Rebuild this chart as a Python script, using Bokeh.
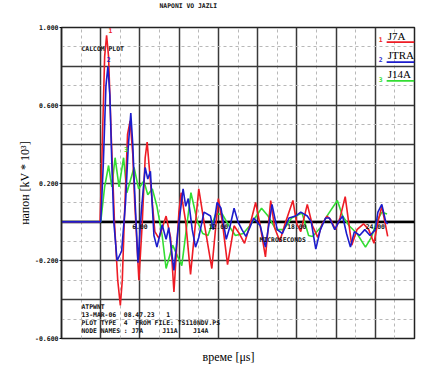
import math
from bokeh.plotting import figure
from bokeh.models import Label, Span, FixedTicker, Range1d, NumeralTickFormatter, Title
from bokeh.embed import file_html
from bokeh.resources import INLINE

# ---- data (time in microseconds, voltage in kV*10^3) ----
t_red = [0, 2.95, 3.1, 3.3, 3.45, 3.6, 3.8, 4.05, 4.3, 4.5,
         4.65, 4.8, 5.05, 5.25, 5.45, 5.6, 5.92, 6.17, 6.4, 6.55,
         6.8, 7.14, 7.45, 8.0, 8.34, 8.6, 8.98, 9.15,
         9.5, 9.87, 10.5, 10.9, 11.5, 12.0, 12.3, 12.7, 13.2, 13.6,
         14.0, 14.4, 14.85, 15.2, 15.6, 16.0, 16.3, 16.7, 17.1, 17.7,
         18.0, 18.3, 18.8, 19.2, 19.6, 19.95, 20.3, 20.6, 20.95, 21.3,
         21.7, 22.2, 22.6, 23.1, 23.5, 23.9, 24.2, 24.5, 24.95]
v_red = [0, 0, 0.35, 0.85, 0.96, 0.85, 0.45, 0.0, -0.30, -0.43,
         -0.30, 0.0, 0.45, 0.52, 0.35, 0.1, -0.30, -0.015, 0.33, 0.41,
         0.21, -0.05, -0.085, 0.03, -0.08, -0.36, 0.05, 0.15,
         0.0, -0.27, 0.17, 0.0, -0.24, 0.12, 0.0, -0.22, -0.02, -0.06,
         -0.11, -0.02, 0.10, -0.02, -0.18, 0.11, -0.03, -0.10, -0.01, 0.11,
         -0.01, -0.05, 0.09, -0.02, -0.08, -0.01, 0.03, 0.01, -0.04, 0.02,
         0.13, -0.12, -0.04, -0.01, -0.04, -0.11, 0.0, 0.08, -0.075]

t_blue = [0, 3.0, 3.2, 3.4, 3.55, 3.7, 3.85, 4.0, 4.25, 4.6,
          4.9, 5.1, 5.3, 5.45, 5.6, 5.85, 6.1, 6.4, 6.6, 6.8,
          7.07, 7.3, 7.7, 8.0, 8.2, 8.6, 8.9, 9.3, 9.5, 9.7,
          10.0, 10.25, 10.5, 10.9, 11.4, 11.6, 11.9, 12.2, 12.6, 12.9,
          13.2, 13.5, 13.8, 14.1, 14.4, 14.7, 15.2, 15.6, 16.1, 16.5,
          16.9, 17.4, 17.9, 18.3, 18.8, 19.1, 19.45, 19.8, 20.2, 20.5,
          20.9, 21.2, 21.5, 21.8, 22.1, 22.4, 22.8, 23.2, 23.6, 24.0,
          24.2, 24.5, 24.8, 24.95]
v_blue = [0, 0, 0.30, 0.70, 0.80, 0.65, 0.30, 0.0, -0.20, -0.15,
          0.10, 0.38, 0.56, 0.40, 0.15, -0.21, 0.05, 0.28, 0.22, 0.26,
          -0.07, -0.13, -0.015, -0.09, -0.03, -0.25, -0.05, 0.17, 0.08, 0.12,
          -0.04, -0.13, -0.08, 0.05, 0.03, -0.04, 0.10, 0.07, -0.09, -0.02,
          0.07, 0.0, -0.04, -0.075, -0.03, 0.02, -0.02, -0.13, 0.09, -0.04,
          -0.06, 0.02, 0.03, 0.05, 0.03, 0.0, -0.14, -0.04, 0.02, 0.02,
          -0.04, 0.0, 0.03, -0.06, -0.13, -0.05, -0.07, -0.04, -0.07, -0.04,
          0.05, 0.09, 0.0, -0.01]

t_green = [0, 3.0, 3.3, 3.6, 3.85, 4.1, 4.4, 4.75, 5.0, 5.55, 5.9,
           6.3, 6.6, 6.95, 7.3, 7.7, 8.0, 8.5, 9.2, 9.9, 10.4,
           10.8, 11.2, 11.8, 12.3, 12.8, 13.3, 13.9, 14.4, 15.3, 15.8,
           16.4, 17.0, 17.6, 18.4, 18.9, 19.2, 19.8, 20.4, 21.1, 21.5,
           22.0, 22.6, 23.25, 23.7, 24.1, 24.5, 24.9]
v_green = [0, 0, 0.18, 0.29, 0.18, 0.33, 0.18, 0.33, 0.15, 0.28, 0.17,
           0.21, 0.14, 0.17, 0.08, -0.07, -0.24, -0.12, -0.225, 0.15, 0.0,
           -0.06, -0.07, 0.04, 0.04, -0.02, -0.07, -0.06, -0.02, 0.07, 0.03,
           -0.04, -0.04, 0.02, 0.045, -0.07, -0.075, -0.03, 0.04, 0.11, 0.03,
           -0.02, -0.06, -0.13, -0.08, 0.0, 0.05, 0.04]

series_names = ["J7A", "JTRA", "J14A"]
series_colors = ["#ee1c25", "#1c1ccc", "#33dd33"]
y_tick_values = [-0.6, -0.2, 0.2, 0.6, 1.0]
x_tick_labels = [6, 12, 18, 24]

n = min(len(t_red), len(v_red)); t_red, v_red = t_red[:n], v_red[:n]
n = min(len(t_blue), len(v_blue)); t_blue, v_blue = t_blue[:n], v_blue[:n]
n = min(len(t_green), len(v_green)); t_green, v_green = t_green[:n], v_green[:n]

MONO = "DejaVu Sans Mono"
SERIF = "Liberation Serif"
NB = "\u00a0"

p = figure(width=425, height=372, output_backend="svg", toolbar_location=None,
           x_range=Range1d(0, 27), y_range=Range1d(-0.6, 1.0),
           min_border_left=61, min_border_right=11, min_border_top=27,
           min_border_bottom=33)
p.background_fill_color = "white"
p.border_fill_color = "white"
p.outline_line_color = "#222222"
p.outline_line_width = 1.5

p.title.text = "NAPONI VO JAZLI\n" + NB + "\n" + NB
p.title.align = "left"
p.title.vertical_align = "top"
p.title.offset = 98
p.title.text_font = MONO
p.title.text_font_size = "6.4px"
p.title.text_font_style = "bold"
p.title.text_color = "#111111"
has_standoff = "standoff" in p.title.properties()
if has_standoff:
    p.title.standoff = 0

p.xaxis.visible = False
xt = Title(text="време [μs]", align="left", offset=141,
           text_font=SERIF, text_font_size="12px",
           text_font_style="normal", text_color="#000000")
if has_standoff:
    xt.standoff = 18
p.add_layout(xt, "below")

p.yaxis.ticker = FixedTicker(ticks=y_tick_values)
p.yaxis.formatter = NumeralTickFormatter(format="0.000")
p.yaxis.major_label_text_font = MONO
p.yaxis.major_label_text_font_size = "6.5px"
p.yaxis.major_label_text_font_style = "bold"
p.yaxis.major_label_text_color = "#111111"
p.yaxis.major_tick_out = 2
p.yaxis.major_tick_in = 0
p.yaxis.minor_tick_line_color = None
p.yaxis.major_label_standoff = 1
p.yaxis.axis_line_color = "#222222"
p.yaxis.axis_line_width = 1.5
p.yaxis.axis_label = "напон [kV * 10³]"
p.yaxis.axis_label_text_font = SERIF
p.yaxis.axis_label_text_font_size = "12px"
p.yaxis.axis_label_text_font_style = "normal"
p.yaxis.axis_label_text_color = "#000000"
p.yaxis.axis_label_standoff = 0

p.xgrid.ticker = FixedTicker(ticks=[3 * i for i in range(10)],
                             minor_ticks=[1.5 + 3 * i for i in range(9)])
p.ygrid.ticker = FixedTicker(ticks=[-0.6 + 0.2 * i for i in range(9)],
                             minor_ticks=[-0.5 + 0.2 * i for i in range(8)])
for g in (p.xgrid, p.ygrid):
    g.grid_line_color = "#3a3a3a"
    g.grid_line_width = 1.5
    g.minor_grid_line_color = "#b8b8b8"
    g.minor_grid_line_dash = "3 3"
    g.minor_grid_line_width = 1

p.add_layout(Span(location=0, dimension="width", line_color="black",
                  line_width=2.5, level="underlay"))

p.line(t_green, v_green, line_color=series_colors[2], line_width=1.6)
p.line(t_red, v_red, line_color=series_colors[0], line_width=1.6)
p.line(t_blue, v_blue, line_color=series_colors[1], line_width=1.6)

def lab(x, y, text, size="6.4px", font=MONO, color="#111111", align="left",
        baseline="top", style="bold", angle=0):
    p.add_layout(Label(x=x, y=y, text=text.replace(" ", NB), text_font=font,
                       text_font_size=size, text_color=color,
                       text_align=align, text_baseline=baseline,
                       text_font_style=style, angle=angle))

# notes inside the frame
lab(1.53, 0.91, "CALCOM PLOT")
lab(1.53, -0.415, "ATPWNT")
lab(1.53, -0.457, "13-MAR-06  08.47.23   1")
lab(1.53, -0.50, "PLOT TYPE  4  FROM FILE: TS110NDV.PS")
lab(1.53, -0.543, "NODE NAMES : J7A     J11A    J14A")

# x tick labels along the zero line
for xv in x_tick_labels:
    lab(xv, -0.01, "%.2f" % xv, align="center")
lab(15.15, -0.075, "MICROSECONDS")

# curve markers
lab(3.75, 0.985, "1", color=series_colors[0], align="center", baseline="middle")
lab(3.6, 0.836, "2", color=series_colors[1], align="center", baseline="middle")
lab(4.92, 0.37, "3", color=series_colors[2], align="center", baseline="middle")

# legend
leg_y_num = [0.938, 0.836, 0.733]
leg_y_txt = [0.954, 0.859, 0.759]
leg_y_line = [0.925, 0.822, 0.725]
for i in range(3):
    lab(24.41, leg_y_num[i], str(i + 1), color=series_colors[i], align="center",
        baseline="middle")
    lab(24.95, leg_y_txt[i], series_names[i], size="11px", font=SERIF,
        baseline="middle", style="normal", color="#000000")
    p.segment(x0=[24.87], y0=[leg_y_line[i]], x1=[27], y1=[leg_y_line[i]],
              line_color=series_colors[i], line_width=1.8)

open("out.html", "w").write(file_html(p, INLINE))
